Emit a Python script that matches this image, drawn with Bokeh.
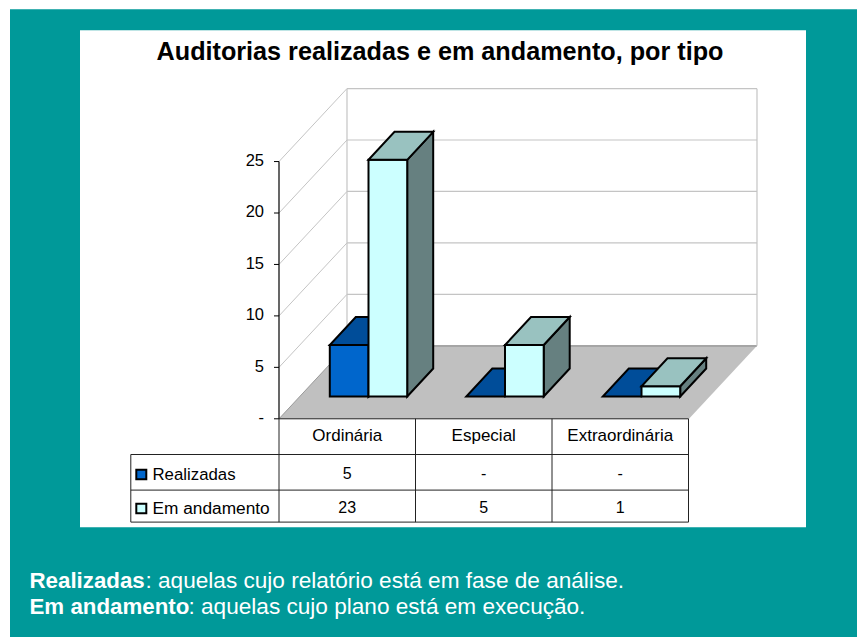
from bokeh.plotting import figure
from bokeh.models import Range1d
from bokeh.core.properties import value
from bokeh.embed import file_html
from bokeh.resources import INLINE

TITLE = "Auditorias realizadas e em andamento, por tipo"
categories = ["Ordinária", "Especial", "Extraordinária"]
series_names = ["Realizadas", "Em andamento"]
realizadas = [5, 0, 0]
em_andamento = [23, 5, 1]
y_ticks = [0, 5, 10, 15, 20, 25]
note_bold = ["Realizadas", "Em andamento"]
note_rest = [": aquelas cujo relatório está em fase de análise.", ": aquelas cujo plano está em execução."]

TEAL = "#009999"
FONT = value("Liberation Sans")
W, H = 857, 637
SX, SY = 136.5, 10.29
OX, OY = 279.5, 419.0
SHX, SHY = 1.0, 0.7

p = figure(width=W, height=H, toolbar_location=None, output_backend="svg", min_border=0,
           x_range=Range1d((SHX - OX) / SX, (W + SHX - OX) / SX),
           y_range=Range1d((OY - H - SHY) / SY, (OY - SHY) / SY),
           styles={"position": "absolute", "left": "0px", "top": "0px"})
p.axis.visible = False
p.grid.visible = False
p.outline_line_color = None
p.background_fill_color = "white"
p.border_fill_color = "white"


def X(px):
    return (px - OX) / SX


def Y(py):
    return (OY - py) / SY


def poly(xs, ys, fill, line="black", lw=2.0):
    p.patch(xs, ys, fill_color=fill, line_color=line, line_width=lw, line_join="miter")


def seg(x0, y0, x1, y1, color, lw=1.0):
    p.line([X(x0), X(x1)], [Y(y0), Y(y1)], line_color=color, line_width=lw)


def txt(px, py, s, size, color="black", style="normal", align="left"):
    p.text([X(px)], [Y(py + SHY - 0.35 * size)], text=[s], text_font=FONT, text_font_size=f"{size}px",
           text_color=color, text_font_style=style, text_align=align, text_baseline="middle")


# panels
poly([X(10.5), X(W + 2), X(W + 2), X(10.5)], [Y(9.5), Y(9.5), Y(H + 2), Y(H + 2)], TEAL, None, 0)
poly([X(80.5), X(806.5), X(806.5), X(80.5)], [Y(30.5), Y(30.5), Y(527.5), Y(527.5)], "white", None, 0)

txt(440.5, 59.5, TITLE, 25.2, style="bold", align="center")

# walls and floor
DX, DY = 68.0, 73.0  # wall depth in pixels
FW = 3 * SX + 0.5
GRID = "#c4c4c4"
poly([X(OX), X(OX + FW), X(OX + FW + DX), X(OX + DX)], [Y(OY), Y(OY), Y(OY - DY), Y(OY - DY)], "#c0c0c0", None, 0)
seg(OX + DX, OY - DY, OX + FW + DX, OY - DY, "#8c8c8c", 1.2)
seg(OX + DX, OY - DY, OX + DX, 89, GRID, 1.2)
seg(OX + FW + DX, OY - DY, OX + FW + DX, 89, GRID, 1.2)
for t in y_ticks[1:]:
    ty = OY - t * SY
    seg(OX, ty, OX + DX, ty - DY, GRID, 1.0)
    seg(OX + DX, ty - DY, OX + FW + DX, ty - DY, GRID, 1.2)
    seg(OX - 5, ty, OX, ty, "black", 1.0)
seg(OX, OY, OX + DX, OY - DY, "#9a9a9a", 1.0)
seg(OX - 5, OY, OX, OY, "black", 1.0)
seg(OX, OY - 25 * SY, OX, OY, "black", 1.2)
for t in y_ticks:
    txt(264.5, OY - t * SY + 3.4, str(t) if t else "-", 16.5, align="right")

# bars
BX0, BY0 = 50.8, 396.7  # first bar front-left, pixels
BW = 38.7
BDX, BDY = 26.0, 28.0
styles = [("#0066cc", "#004d99", "#003d7a"), ("#ccffff", "#99c2c0", "#668080")]
for i in range(3):
    for s, vals in enumerate([realizadas, em_andamento]):
        v = vals[i]
        l = X(OX + BX0 + i * SX + s * BW)
        r = X(OX + BX0 + i * SX + (s + 1) * BW)
        b = Y(BY0)
        t = b + v
        ddx, ddy = BDX / SX, BDY / SY
        front, top, side = styles[s]
        if v > 0:
            poly([r, r + ddx, r + ddx, r], [b, b + ddy, t + ddy, t], side)
            poly([l, r, r, l], [b, b, t, t], front)
        poly([l, r, r + ddx, l + ddx], [t, t, t + ddy, t + ddy], top)

# data table
LINE = "#222222"
Ys = [419.0, 454.7, 490.3, 522.3]
Xs = [OX + i * SX for i in range(4)]
LEFT = 131.3
seg(OX, Ys[0], Xs[3], Ys[0], LINE)
for yy in Ys[1:]:
    seg(LEFT, yy, Xs[3], yy, LINE)
for xx in Xs:
    seg(xx, Ys[0], xx, Ys[3], LINE)
seg(LEFT, Ys[1], LEFT, Ys[3], LINE)
for i, c in enumerate(categories):
    cx = OX + (i + 0.5) * SX
    txt(cx, 441, c, 17, align="center")
    txt(cx, 477.7, str(realizadas[i]) if realizadas[i] else "-", 16, align="center")
    txt(cx, 511.7, str(em_andamento[i]) if em_andamento[i] else "-", 16, align="center")
for s, (name, ky, by, fs) in enumerate(zip(series_names, [470, 504], [480, 514], [16.8, 17.3])):
    poly([X(136.8), X(146.8), X(146.8), X(136.8)], [Y(ky), Y(ky), Y(ky + 9.5), Y(ky + 9.5)], styles[s][0])
    txt(153, by, name, fs)

# note
txt(30, 588, note_bold[0], 22.3, "white", "bold")
txt(146, 588, note_rest[0], 22.6, "white")
txt(30, 614.3, note_bold[1], 22.3, "white", "bold")
txt(189, 614.3, note_rest[1], 22.6, "white")

open("out.html", "w").write(file_html(p, INLINE))
